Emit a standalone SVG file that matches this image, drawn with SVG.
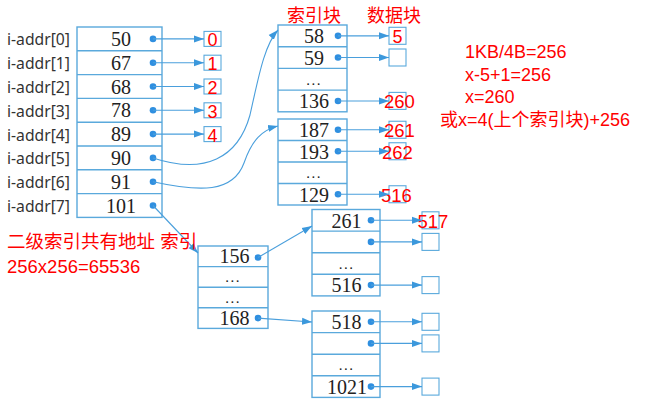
<svg xmlns="http://www.w3.org/2000/svg" width="645" height="405" viewBox="0 0 645 405">
<style>
.box{fill:#fff;stroke:#5aa9dc;stroke-width:1.4}
.cell{fill:none;stroke:#5aa9dc;stroke-width:1.4}
.sbox{fill:#fff;stroke:#5aa9dc;stroke-width:1.1}
.num{font-family:"Liberation Serif",serif;font-size:20px;fill:#222;text-anchor:middle}
.ell{font-family:"Liberation Serif",serif;font-size:15px;letter-spacing:1.5px;fill:#222;text-anchor:middle}
.lbl{font-family:"Noto Sans","Liberation Sans",sans-serif;font-size:15.7px;fill:#333}
.red{font-family:"Liberation Sans","Noto Sans CJK SC",sans-serif;font-size:18px;fill:#f00}
.redc{font-family:"Liberation Sans","Noto Sans CJK SC",sans-serif;font-size:18.5px;fill:#f00}
.dot{fill:#2f8fe0}
.ln{fill:none;stroke:#4a9fdc;stroke-width:1.1}
</style>
<defs>
<marker id="ah" markerUnits="userSpaceOnUse" markerWidth="10" markerHeight="8" refX="10" refY="4" orient="auto">
<path d="M0,0.5 L10,4 L0,7.5 z" fill="#3b98dc"/>
</marker>
</defs>

<!-- main inode address table -->
<g id="inode-table">
<rect class="box" x="77" y="27" width="85" height="190.4"/>
<path class="cell" d="M77,50.8H162M77,74.6H162M77,98.4H162M77,122.2H162M77,146H162M77,169.8H162M77,193.6H162"/>
<text class="lbl" x="7" y="45">i-addr[0]</text>
<text class="lbl" x="7" y="69">i-addr[1]</text>
<text class="lbl" x="7" y="93">i-addr[2]</text>
<text class="lbl" x="7" y="116.5">i-addr[3]</text>
<text class="lbl" x="7" y="140.5">i-addr[4]</text>
<text class="lbl" x="7" y="164">i-addr[5]</text>
<text class="lbl" x="7" y="188">i-addr[6]</text>
<text class="lbl" x="7" y="212">i-addr[7]</text>
<text class="num" x="121" y="46">50</text>
<text class="num" x="121" y="69.8">67</text>
<text class="num" x="121" y="93.6">68</text>
<text class="num" x="121" y="117.4">78</text>
<text class="num" x="121" y="141.2">89</text>
<text class="num" x="121" y="165">90</text>
<text class="num" x="121" y="188.8">91</text>
<text class="num" x="121" y="212.6">101</text>
<circle class="dot" cx="153" cy="38.9" r="3.3"/>
<circle class="dot" cx="153" cy="62.7" r="3.3"/>
<circle class="dot" cx="153" cy="86.5" r="3.3"/>
<circle class="dot" cx="153" cy="110.3" r="3.3"/>
<circle class="dot" cx="153" cy="134.1" r="3.3"/>
<circle class="dot" cx="153" cy="157.9" r="3.3"/>
<circle class="dot" cx="153" cy="181.7" r="3.3"/>
<circle class="dot" cx="153" cy="205.5" r="3.3"/>
</g>

<!-- direct data blocks -->
<g id="direct-blocks">
<rect class="sbox" x="204" y="31.4" width="17" height="15"/>
<rect class="sbox" x="204" y="55.2" width="17" height="15"/>
<rect class="sbox" x="204" y="79" width="17" height="15"/>
<rect class="sbox" x="204" y="102.8" width="17" height="15"/>
<rect class="sbox" x="204" y="126.6" width="17" height="15"/>
<text class="red" x="212.5" y="46.3" text-anchor="middle">0</text>
<text class="red" x="212.5" y="70.1" text-anchor="middle">1</text>
<text class="red" x="212.5" y="93.9" text-anchor="middle">2</text>
<text class="red" x="212.5" y="117.7" text-anchor="middle">3</text>
<text class="red" x="212.5" y="141.5" text-anchor="middle">4</text>
</g>

<!-- index block 1 -->
<g id="index-block-1">
<text class="red" x="287" y="22">索引块</text>
<rect class="box" x="278" y="25" width="69" height="86.8"/>
<path class="cell" d="M278,46.7H347M278,68.4H347M278,90.1H347"/>
<text class="num" x="314" y="43.3">58</text>
<text class="num" x="314" y="65">59</text>
<text class="ell" x="314" y="84.5">...</text>
<text class="num" x="314" y="108.4">136</text>
<circle class="dot" cx="338" cy="35.85" r="3.3"/>
<circle class="dot" cx="338" cy="57.55" r="3.3"/>
<circle class="dot" cx="338" cy="100.95" r="3.3"/>
</g>

<g id="data-blocks-1">
<text class="red" x="367" y="22">数据块</text>
<rect class="sbox" x="389" y="27.3" width="17" height="17"/>
<rect class="sbox" x="389" y="49" width="17" height="17"/>
<rect class="sbox" x="389" y="92.4" width="17" height="17"/>
<text class="red" x="397.5" y="43.3" text-anchor="middle">5</text>
<text class="redc" x="384" y="108">260</text>
</g>

<!-- index block 2 -->
<g id="index-block-2">
<rect class="box" x="278" y="119" width="69" height="86"/>
<path class="cell" d="M278,140.5H347M278,162H347M278,183.5H347"/>
<text class="num" x="314" y="137.2">187</text>
<text class="num" x="314" y="158.7">193</text>
<text class="ell" x="314" y="178">...</text>
<text class="num" x="314" y="201.7">129</text>
<circle class="dot" cx="338" cy="129.75" r="3.3"/>
<circle class="dot" cx="338" cy="151.25" r="3.3"/>
<circle class="dot" cx="338" cy="194.25" r="3.3"/>
</g>

<g id="data-blocks-2">
<rect class="sbox" x="389" y="121.25" width="17" height="17"/>
<rect class="sbox" x="389" y="142.75" width="17" height="17"/>
<rect class="sbox" x="389" y="185.75" width="17" height="17"/>
<text class="redc" x="384" y="137.3">261</text>
<text class="redc" x="382" y="158.8">262</text>
<text class="redc" x="381" y="201.8">516</text>
</g>

<!-- first-level of double indirect -->
<g id="double-index-1">
<rect class="box" x="198" y="246" width="70" height="82.4"/>
<path class="cell" d="M198,266.6H268M198,287.2H268M198,307.8H268"/>
<text class="num" x="234.5" y="263.3">156</text>
<text class="ell" x="233" y="282.2">...</text>
<text class="ell" x="233" y="302.8">...</text>
<text class="num" x="234.5" y="325.1">168</text>
<circle class="dot" cx="258" cy="257.5" r="3.3"/>
<circle class="dot" cx="258" cy="318.1" r="3.3"/>
</g>

<!-- second-level A -->
<g id="double-index-2a">
<rect class="box" x="312" y="209.5" width="68" height="86.4"/>
<path class="cell" d="M312,231.1H380M312,252.7H380M312,274.3H380"/>
<text class="num" x="346.5" y="227.5">261</text>
<text class="ell" x="346.5" y="268.8">...</text>
<text class="num" x="346.5" y="292.3">516</text>
<circle class="dot" cx="371" cy="220.3" r="3.3"/>
<circle class="dot" cx="371" cy="241.9" r="3.3"/>
<circle class="dot" cx="371" cy="285.1" r="3.3"/>
</g>
<g id="data-blocks-2a">
<rect class="sbox" x="422" y="211.8" width="17" height="17"/>
<rect class="sbox" x="422" y="233.4" width="17" height="17"/>
<rect class="sbox" x="422" y="276.6" width="17" height="17"/>
<text class="redc" x="417.5" y="228">517</text>
</g>

<!-- second-level B -->
<g id="double-index-2b">
<rect class="box" x="312" y="311" width="68" height="86.4"/>
<path class="cell" d="M312,332.6H380M312,354.2H380M312,375.8H380"/>
<text class="num" x="346.5" y="329">518</text>
<text class="ell" x="346.5" y="370.3">...</text>
<text class="num" x="347" y="393.8">1021</text>
<circle class="dot" cx="371" cy="321.8" r="3.3"/>
<circle class="dot" cx="371" cy="343.4" r="3.3"/>
<circle class="dot" cx="371" cy="386.6" r="3.3"/>
</g>
<g id="data-blocks-2b">
<rect class="sbox" x="422" y="313.3" width="17" height="17"/>
<rect class="sbox" x="422" y="334.9" width="17" height="17"/>
<rect class="sbox" x="422" y="378.1" width="17" height="17"/>
</g>

<!-- connectors -->
<g id="connectors">
<path class="ln" marker-end="url(#ah)" d="M153,38.9H204"/>
<path class="ln" marker-end="url(#ah)" d="M153,62.7H204"/>
<path class="ln" marker-end="url(#ah)" d="M153,86.5H204"/>
<path class="ln" marker-end="url(#ah)" d="M153,110.3H204"/>
<path class="ln" marker-end="url(#ah)" d="M153,134.1H204"/>
<path class="ln" marker-end="url(#ah)" d="M153,157.9C205,175 238,158 250,115C258,80 264,45 278,30"/>
<path class="ln" marker-end="url(#ah)" d="M153,181.7C200,192 233,193 244,163C252,140 262,130 278,126"/>
<path class="ln" marker-end="url(#ah)" d="M153,205.5L198,253"/>
<path class="ln" marker-end="url(#ah)" d="M338,35.85H389"/>
<path class="ln" marker-end="url(#ah)" d="M338,57.55H389"/>
<path class="ln" marker-end="url(#ah)" d="M338,100.95H389"/>
<path class="ln" marker-end="url(#ah)" d="M338,129.75H389"/>
<path class="ln" marker-end="url(#ah)" d="M338,151.25H389"/>
<path class="ln" marker-end="url(#ah)" d="M338,194.25H389"/>
<path class="ln" marker-end="url(#ah)" d="M258,257.5L312,226"/>
<path class="ln" marker-end="url(#ah)" d="M258,318.1L312,322"/>
<path class="ln" marker-end="url(#ah)" d="M371,220.3H422"/>
<path class="ln" marker-end="url(#ah)" d="M371,241.9H422"/>
<path class="ln" marker-end="url(#ah)" d="M371,285.1H422"/>
<path class="ln" marker-end="url(#ah)" d="M371,321.8H422"/>
<path class="ln" marker-end="url(#ah)" d="M371,343.4H422"/>
<path class="ln" marker-end="url(#ah)" d="M371,386.6H422"/>
</g>

<!-- annotations -->
<g id="notes">
<text class="red" x="465" y="58">1KB/4B=256</text>
<text class="red" x="465" y="80.5">x-5+1=256</text>
<text class="red" x="465" y="103">x=260</text>
<text class="red" x="440" y="126">或x=4(上个索引块)+256</text>
<text class="redc" x="7" y="248">二级索引共有地址 索引</text>
<text class="redc" x="7" y="273">256x256=65536</text>
</g>
</svg>
